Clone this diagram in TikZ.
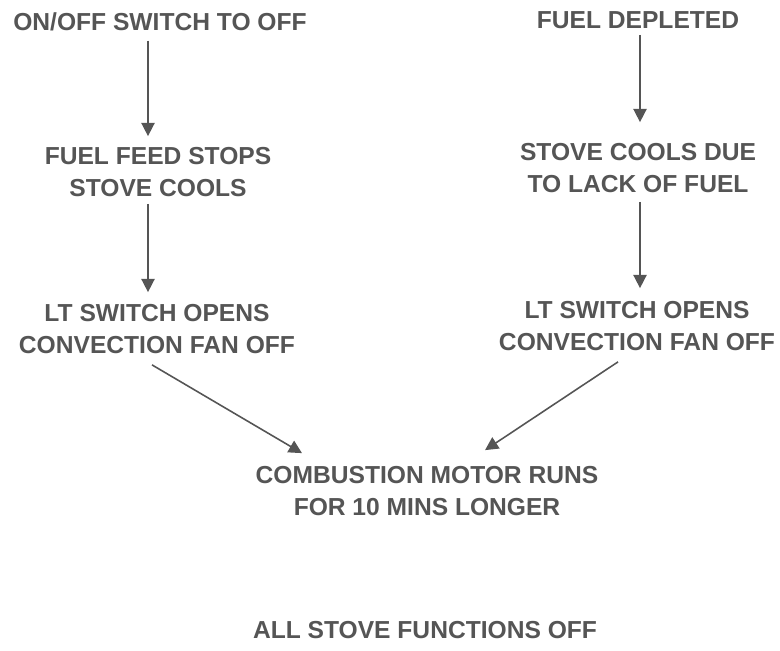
\documentclass[tikz,border=0pt]{standalone}
\usepackage{fontspec}
\setmainfont{Liberation Sans}
\usetikzlibrary{arrows.meta}
\definecolor{inkgray}{HTML}{555555}

\begin{document}
\begin{tikzpicture}[x=0.02cm,y=-0.02cm,
    txt/.style={text=inkgray,font=\fontsize{14}{18}\selectfont\bfseries,align=center,inner sep=0pt},
    flow/.style={draw=inkgray,line width=0.9pt,-{Triangle[length=7.5pt,width=7.5pt]}}]
    \useasboundingbox (0,0) rectangle (780,650);

    % Left chain
    \node[txt] (onoff) at (160,22) {ON/OFF SWITCH TO OFF};
    \node[txt] (feed) at (158,172) {FUEL FEED STOPS\\STOVE COOLS};
    \node[txt] (ltl) at (157,329) {LT SWITCH OPENS\\CONVECTION FAN OFF};

    % Right chain
    \node[txt] (depleted) at (638,20) {FUEL DEPLETED};
    \node[txt] (cools) at (638,168) {STOVE COOLS DUE\\TO LACK OF FUEL};
    \node[txt] (ltr) at (637,326) {LT SWITCH OPENS\\CONVECTION FAN OFF};

    % Bottom
    \node[txt] (motor) at (427,491) {COMBUSTION MOTOR RUNS\\FOR 10 MINS LONGER};
    \node[txt] (alloff) at (425,630) {ALL STOVE FUNCTIONS OFF};

    % Arrows
    \draw[flow] ([shift={(-12,9)}]onoff.south) -- ([shift={(-10,-11)}]feed.north);
    \draw[flow] ([shift={(-10,7)}]feed.south) -- ([shift={(-9,-12)}]ltl.north);
    \draw[flow] ([shift={(2,6)}]depleted.south) -- ([shift={(2,-21)}]cools.north);
    \draw[flow] ([shift={(2,9)}]cools.south) -- ([shift={(3,-13)}]ltr.north);
    \draw[flow] ([shift={(-5,11)}]ltl.south) -- ([shift={(-125,-13)}]motor.north);
    \draw[flow] ([shift={(-19,11)}]ltr.south) -- ([shift={(58,-16)}]motor.north);
\end{tikzpicture}
\end{document}
